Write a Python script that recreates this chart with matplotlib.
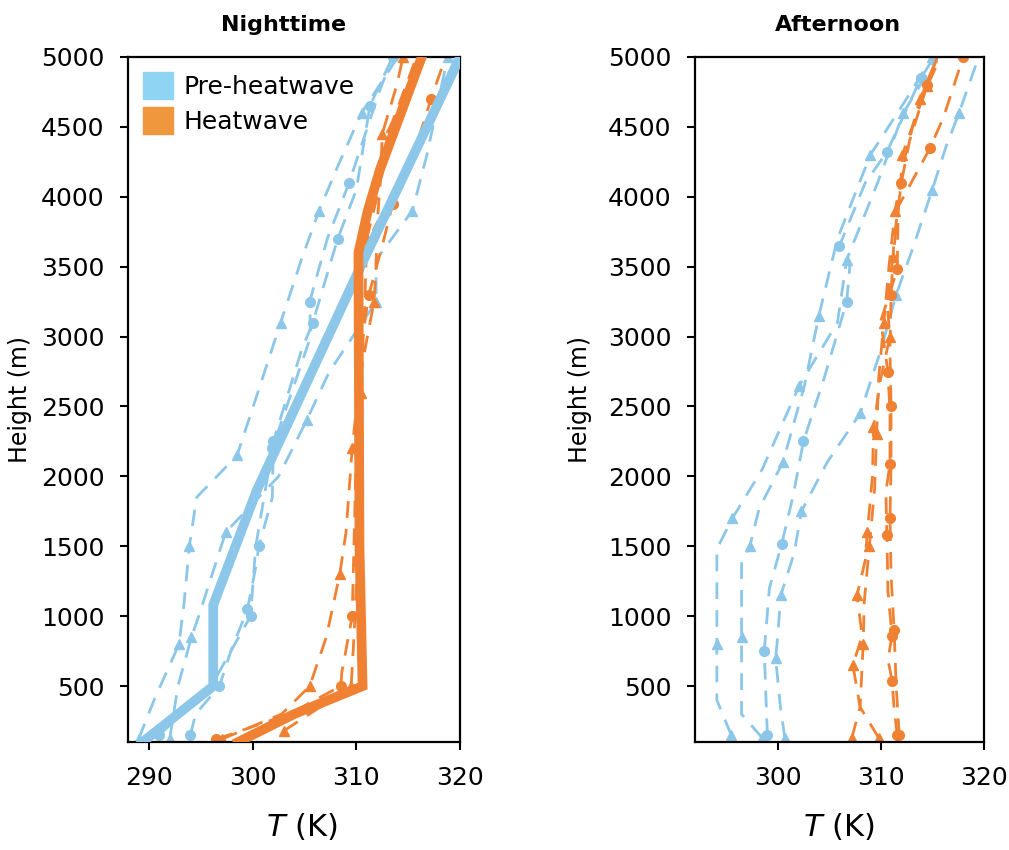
import numpy as np
import matplotlib
matplotlib.use("Agg")
import matplotlib.pyplot as plt
from matplotlib.patches import Patch

# colours
blue = '#8cc7ea'
orange = '#f08132'
blue_patch = '#90d4f4'
orange_patch = '#f0963c'

# ---- Nighttime : mean profiles (thick)
night_pre_H = [100, 500, 1080, 1900, 2700, 3500, 5000]
night_pre_T = [289.4, 296.2, 296.2, 300.4, 305.4, 310.4, 320.0]
night_hw_H = [100, 300, 500, 1500, 3600, 3900, 4200, 5000]
night_hw_T = [298.6, 304.0, 310.6, 310.3, 310.2, 311.1, 312.3, 316.3]

# ---- Nighttime : individual soundings (dashed)
night_pre_runs = [
    # (heights, temps, marker)
    ([120, 400, 800, 1100, 1500, 1850, 2150, 2600, 3100, 3550, 3900, 4200, 4600, 5000],
     [289.0, 290.5, 292.9, 293.4, 293.9, 294.6, 298.5, 300.5, 302.7, 304.7, 306.4, 308.1, 310.5, 314.0], '^'),
    ([150, 300, 500, 750, 1050, 1350, 1500, 1850, 2250, 2900, 3100, 3450, 3700, 4050, 4650, 5000],
     [294.0, 294.5, 296.8, 297.9, 299.5, 300.3, 300.6, 301.9, 302.0, 304.7, 305.8, 307.2, 308.2, 310.0, 311.3, 313.5], 'o'),
    ([150, 500, 1000, 1500, 2200, 3000, 3250, 3700, 4100, 4750, 5000],
     [291.0, 296.0, 299.8, 300.3, 301.9, 305.6, 305.5, 307.2, 309.3, 312.2, 313.5], 'o'),
    ([120, 500, 850, 1000, 1600, 2000, 2400, 2750, 3250, 3550, 3900, 4300, 5000],
     [292.0, 292.8, 294.1, 294.8, 297.4, 302.5, 305.2, 307.4, 311.9, 311.9, 315.4, 316.8, 318.8], '^'),
]
night_hw_runs = [
    ([120, 300, 500, 850, 1300, 1600, 2200, 2700, 3250, 3500, 3800, 4100, 4450, 4800, 5000],
     [297.0, 302.8, 305.5, 307.1, 308.4, 309.0, 309.6, 310.3, 311.7, 311.9, 312.0, 312.3, 312.5, 313.9, 314.5], '^'),
    ([120, 300, 500, 600, 1000, 1600, 2200, 2800, 3300, 3650, 3950, 4300, 4700, 5000],
     [296.5, 303.5, 308.5, 308.6, 309.6, 309.8, 310.0, 310.2, 311.2, 312.5, 313.5, 315.5, 317.2, 318.6], 'o'),
    ([180, 350, 500, 900, 1400, 2000, 2600, 3200, 3700, 4000, 4500, 5000],
     [303.0, 306.5, 309.5, 309.8, 310.1, 310.1, 310.4, 310.8, 311.0, 312.0, 313.3, 315.8], '^'),
]

# ---- Afternoon : individual soundings (dashed)
after_pre_runs = [
    ([150, 400, 800, 1480, 1700, 2050, 2650, 3100, 3550, 4100, 4600, 5000],
     [295.5, 294.1, 294.1, 294.1, 295.6, 298.5, 302.1, 305.8, 306.7, 309.7, 312.2, 315.5], '^'),
    ([130, 300, 850, 1400, 1500, 1770, 2100, 2650, 3150, 3700, 4300, 4700, 5000],
     [298.5, 296.5, 296.5, 296.5, 297.3, 298.2, 300.5, 302.6, 304.0, 305.8, 309.0, 312.5, 315.0], '^'),
    ([150, 350, 750, 1200, 1520, 1860, 2250, 2700, 3250, 3500, 3650, 4100, 4320, 4640, 4850, 5000],
     [299.0, 298.9, 298.7, 299.2, 300.4, 301.5, 302.5, 304.5, 306.7, 307.0, 306.0, 308.5, 310.6, 312.6, 313.9, 315.2], 'o'),
    ([130, 330, 700, 850, 1150, 1450, 1750, 2100, 2450, 2900, 3300, 3650, 4050, 4350, 4600, 5000],
     [300.7, 300.3, 299.8, 300.0, 300.3, 301.6, 302.3, 304.8, 308.0, 310.0, 311.5, 313.2, 315.0, 316.3, 317.6, 319.5], '^'),
]
after_hw_runs = [
    ([130, 350, 650, 860, 1150, 1400, 1600, 2000, 2350, 2700, 3000, 3250, 3570, 4050, 4300, 4530, 4790, 5000],
     [307.2, 308.0, 307.3, 308.2, 307.7, 308.5, 308.7, 309.2, 309.3, 310.0, 310.9, 310.6, 311.2, 311.9, 312.1, 313.2, 314.5, 315.8], '^'),
    ([130, 350, 800, 1100, 1500, 1900, 2300, 2700, 3100, 3500, 3900, 4300, 4700, 5000],
     [309.8, 308.0, 308.3, 308.4, 308.9, 309.4, 309.6, 309.8, 310.3, 310.8, 311.4, 312.4, 313.8, 315.5], '^'),
    ([150, 340, 540, 690, 860, 1180, 1580, 1890, 2090, 2460, 2750, 3110, 3480, 3930, 4350, 4570, 5000],
     [311.6, 311.3, 311.1, 310.7, 311.1, 310.7, 310.6, 310.5, 310.9, 310.9, 310.7, 310.0, 311.6, 311.7, 314.8, 316.1, 318.0], 'o'),
    ([150, 500, 900, 1300, 1700, 2100, 2500, 2900, 3300, 3700, 4100, 4400, 4800, 5000],
     [311.8, 311.5, 311.3, 311.0, 310.9, 311.0, 311.0, 310.9, 311.0, 311.3, 312.0, 312.8, 314.5, 315.5], 'o'),
]

yticks = np.arange(500, 5001, 500)

fig = plt.figure(figsize=(10.09, 8.5), dpi=100)
ax1 = fig.add_axes([0.127, 0.127, 0.329, 0.806])
ax2 = fig.add_axes([0.689, 0.127, 0.286, 0.806])


def draw_runs(ax, runs, color):
    for H, T, m in runs:
        ax.plot(T, H, color=color, lw=2.0, ls=(0, (6, 4)), marker=m,
                markersize=7, markevery=2, zorder=2)


draw_runs(ax1, night_pre_runs, blue)
draw_runs(ax1, night_hw_runs, orange)
ax1.plot(night_pre_T, night_pre_H, color=blue, lw=7, solid_joinstyle='miter', zorder=3)
ax1.plot(night_hw_T, night_hw_H, color=orange, lw=7, solid_joinstyle='miter', zorder=4)

draw_runs(ax2, after_pre_runs, blue)
draw_runs(ax2, after_hw_runs, orange)

ax1.set_xlim(288, 320)
ax1.set_xticks([290, 300, 310, 320])
ax2.set_xlim(292, 320)
ax2.set_xticks([300, 310, 320])

setup = [(ax1, 'Nighttime', 0.467, 0.524, -0.29),
         (ax2, 'Afternoon', 0.495, 0.497, -0.356)]
for ax, title, tx, xlx, ylx in setup:
    ax.set_ylim(100, 5000)
    ax.set_yticks(yticks)
    ax.tick_params(labelsize=18, length=6, width=1.5, direction='out', pad=11)
    for s in ax.spines.values():
        s.set_linewidth(1.6)
    ax.set_title(title, fontsize=16, fontweight='bold', pad=19, x=tx)
    ax.set_ylabel('Height (m)', fontsize=17)
    ax.yaxis.set_label_coords(ylx, 0.5)
    ax.set_xlabel(r'$\mathit{T}$ (K)', fontsize=22)
    ax.xaxis.set_label_coords(xlx, -0.100)

handles = [Patch(color=blue_patch, label='Pre-heatwave'),
           Patch(color=orange_patch, label='Heatwave')]
ax1.legend(handles=handles, loc='upper left', frameon=False, fontsize=18,
           handlelength=1.2, handleheight=1.3, handletextpad=0.4,
           borderaxespad=0.2, labelspacing=0.3)

fig.savefig('out.png', dpi=100)
